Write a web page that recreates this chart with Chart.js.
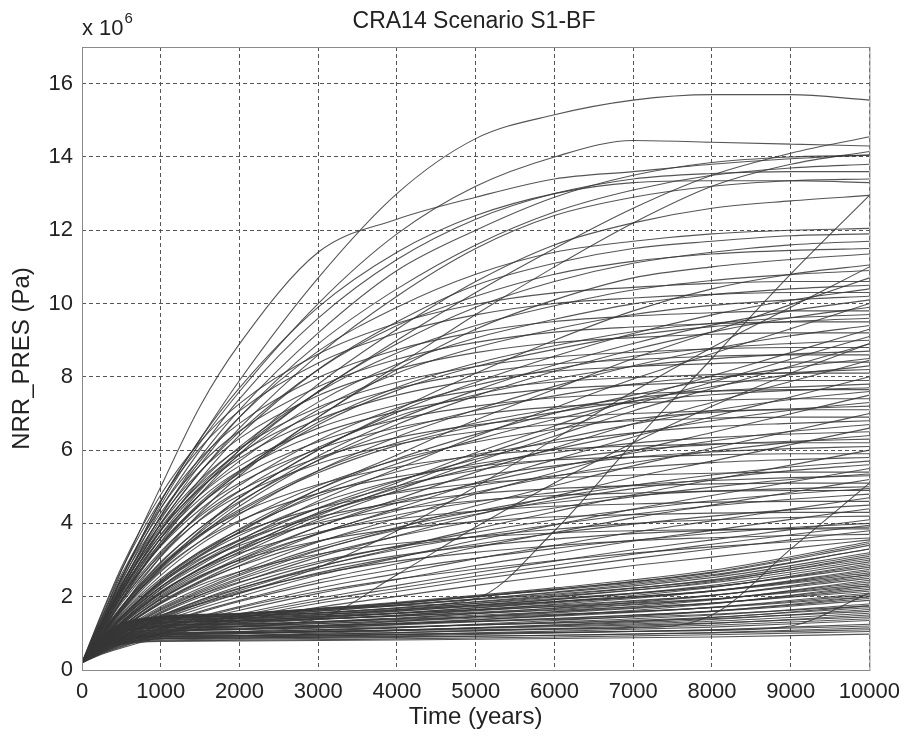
<!DOCTYPE html>
<html>
<head>
<meta charset="utf-8">
<script src="https://cdn.jsdelivr.net/npm/chart.js@4.4.1/dist/chart.umd.min.js"></script>
<style>
  html, body { margin: 0; padding: 0; background: #fff; }
  canvas { display: block; }
</style>
</head>
<body>
<canvas id="nrr" width="909" height="739"></canvas>
<script>
// Sample times (years) for the realisations
const TIME = [0, 250, 500, 1000, 1500, 2000, 3000, 4000, 5000, 6000, 7000, 8000, 9000, 10000];
const TIME_BAND = [0, 250, 500, 1000, 2000, 4000, 6000, 8000, 10000];

const X_TICKS = [0, 1000, 2000, 3000, 4000, 5000, 6000, 7000, 8000, 9000, 10000];
const Y_TICKS = [0, 2, 4, 6, 8, 10, 12, 14, 16];

// Pressure in units of 1e6 Pa, sampled on TIME
const upperRuns = [
  [0.2, 1.3, 2.5, 4.6, 6.3, 7.9, 10.7, 13.0, 14.5, 15.15, 15.55, 15.7, 15.7, 15.55],
  [0.2, 1.3, 2.5, 4.5, 6.2, 7.6, 10.0, 11.9, 13.2, 14.0, 14.45, 14.4, 14.35, 14.3],
  [0.2, 1.4, 2.7, 5.0, 7.2, 8.9, 11.4, 12.3, 12.9, 13.4, 13.6, 13.8, 13.95, 14.05],
  [0.2, 1.1, 2.1, 3.8, 5.0, 6.0, 7.6, 9.0, 10.3, 11.5, 12.6, 13.5, 14.1, 14.55],
  [0.2, 1.0, 1.9, 3.4, 4.5, 5.4, 6.9, 8.3, 9.7, 11.0, 12.2, 13.2, 13.8, 14.15],
  [0.2, 1.2, 2.3, 4.2, 5.8, 7.1, 9.2, 10.9, 12.0, 12.9, 13.5, 13.85, 14.0, 14.05],
  [0.2, 1.2, 2.3, 4.1, 5.6, 6.9, 8.9, 10.4, 11.6, 12.5, 13.1, 13.5, 13.7, 13.8],
  [0.2, 1.3, 2.4, 4.4, 6.0, 7.4, 9.6, 11.2, 12.3, 13.0, 13.4, 13.55, 13.6, 13.6],
  [0.2, 1.2, 2.2, 4.0, 5.4, 6.6, 8.6, 10.2, 11.5, 12.4, 12.9, 13.2, 13.35, 13.4],
  [0.2, 1.3, 2.5, 4.6, 6.3, 7.7, 9.9, 11.4, 12.4, 13.0, 13.3, 13.35, 13.35, 13.3],
  [0.2, 1.1, 2.0, 3.6, 4.9, 6.0, 7.8, 9.3, 10.6, 11.6, 12.2, 12.6, 12.8, 12.95],
  [0.2, 1.2, 2.3, 4.2, 5.7, 6.9, 8.7, 9.9, 10.8, 11.4, 11.7, 11.9, 12.0, 12.05],
  [0.2, 1.1, 2.1, 3.8, 5.2, 6.4, 8.2, 9.5, 10.5, 11.1, 11.5, 11.7, 11.85, 11.9],
  [0.2, 1.0, 1.9, 3.5, 4.8, 5.9, 7.6, 8.9, 9.9, 10.6, 11.1, 11.4, 11.6, 11.7],
  [0.2, 1.2, 2.2, 4.0, 5.4, 6.5, 8.2, 9.4, 10.2, 10.8, 11.15, 11.35, 11.45, 11.5],
  [0.2, 0.9, 1.7, 3.1, 4.3, 5.3, 6.9, 8.2, 9.3, 10.1, 10.7, 11.0, 11.2, 11.35],
  [0.2, 0.9, 1.6, 2.8, 3.8, 4.7, 6.0, 7.1, 8.1, 9.0, 9.8, 10.4, 10.8, 11.05]
];

// Runs that stay low and then climb late
const lateRuns = [
  [0.2, 0.6, 0.85, 1.2, 1.35, 1.45, 1.6, 1.75, 1.95, 3.8, 6.2, 8.5, 10.8, 12.95],
  [0.2, 0.55, 0.8, 0.95, 1.0, 1.02, 1.05, 1.08, 1.1, 1.12, 1.15, 1.5, 3.3, 5.1],
  [0.2, 0.7, 1.1, 1.5, 1.8, 2.1, 2.8, 3.8, 5.0, 6.3, 7.6, 8.8, 9.9, 11.0],
  [0.2, 0.55, 0.8, 1.0, 1.1, 1.2, 1.4, 2.6, 3.9, 5.1, 6.2, 7.2, 8.1, 8.9],
  [0.2, 0.5, 0.72, 0.85, 0.88, 0.9, 0.93, 0.96, 0.99, 1.02, 1.05, 1.08, 1.2, 2.1]
];

const fanRuns = [
  [0.2, 1.27, 2.23, 3.84, 5.12, 6.09, 7.58, 8.65, 9.4, 9.94, 10.37, 10.63, 10.79, 10.9],
  [0.2, 1.55, 2.8, 4.78, 6.23, 7.27, 8.62, 9.46, 9.98, 10.29, 10.44, 10.55, 10.6, 10.6],
  [0.2, 1.02, 1.73, 2.95, 3.87, 4.69, 6.01, 7.03, 7.85, 8.56, 9.18, 9.69, 10.09, 10.4],
  [0.2, 1.51, 2.73, 4.64, 6.06, 7.07, 8.38, 9.19, 9.69, 10.0, 10.15, 10.25, 10.3, 10.3],
  [0.2, 1.2, 2.1, 3.6, 4.8, 5.7, 7.1, 8.1, 8.8, 9.3, 9.7, 9.95, 10.1, 10.2],
  [0.2, 0.89, 1.38, 2.26, 2.94, 3.53, 4.61, 5.49, 6.37, 7.16, 7.94, 8.63, 9.31, 10.0],
  [0.2, 1.45, 2.6, 4.42, 5.77, 6.73, 7.98, 8.74, 9.22, 9.51, 9.66, 9.75, 9.8, 9.8],
  [0.2, 1.14, 1.99, 3.4, 4.52, 5.37, 6.69, 7.63, 8.28, 8.75, 9.13, 9.37, 9.51, 9.6],
  [0.2, 0.94, 1.58, 2.68, 3.51, 4.25, 5.44, 6.36, 7.1, 7.74, 8.3, 8.76, 9.12, 9.4],
  [0.2, 1.37, 2.45, 4.16, 5.42, 6.32, 7.49, 8.21, 8.66, 8.93, 9.07, 9.16, 9.2, 9.2],
  [0.2, 1.08, 1.87, 3.19, 4.25, 5.04, 6.27, 7.15, 7.77, 8.21, 8.56, 8.78, 8.91, 9.0],
  [0.2, 0.81, 1.24, 2.03, 2.64, 3.16, 4.12, 4.9, 5.68, 6.38, 7.07, 7.68, 8.29, 8.9],
  [0.2, 1.32, 2.35, 3.98, 5.19, 6.05, 7.17, 7.85, 8.28, 8.54, 8.67, 8.76, 8.8, 8.8],
  [0.2, 1.05, 1.82, 3.09, 4.11, 4.88, 6.07, 6.92, 7.51, 7.94, 8.28, 8.49, 8.62, 8.7],
  [0.2, 0.86, 1.45, 2.44, 3.19, 3.85, 4.93, 5.76, 6.43, 7.01, 7.5, 7.92, 8.25, 8.5],
  [0.2, 1.27, 2.25, 3.81, 4.96, 5.78, 6.84, 7.5, 7.91, 8.15, 8.28, 8.36, 8.4, 8.4],
  [0.2, 1.0, 1.72, 2.92, 3.88, 4.6, 5.72, 6.52, 7.08, 7.48, 7.8, 8.0, 8.12, 8.2],
  [0.2, 0.75, 1.14, 1.84, 2.38, 2.85, 3.71, 4.41, 5.11, 5.74, 6.36, 6.91, 7.45, 8.0],
  [0.2, 1.2, 2.13, 3.59, 4.67, 5.44, 6.44, 7.05, 7.44, 7.67, 7.78, 7.86, 7.9, 7.9],
  [0.2, 0.96, 1.64, 2.78, 3.7, 4.38, 5.44, 6.2, 6.74, 7.12, 7.42, 7.61, 7.72, 7.8],
  [0.2, 0.79, 1.31, 2.2, 2.86, 3.46, 4.42, 5.16, 5.75, 6.27, 6.71, 7.08, 7.38, 7.6],
  [0.2, 1.14, 2.0, 3.37, 4.38, 5.1, 6.03, 6.61, 6.97, 7.18, 7.29, 7.36, 7.4, 7.4],
  [0.2, 0.9, 1.53, 2.58, 3.42, 4.05, 5.03, 5.73, 6.22, 6.57, 6.85, 7.03, 7.13, 7.2],
  [0.2, 0.68, 1.02, 1.63, 2.1, 2.51, 3.26, 3.87, 4.48, 5.03, 5.57, 6.05, 6.52, 7.0],
  [0.2, 1.07, 1.88, 3.15, 4.09, 4.76, 5.63, 6.16, 6.5, 6.7, 6.8, 6.87, 6.9, 6.9],
  [0.2, 0.72, 1.18, 1.96, 2.54, 3.06, 3.91, 4.56, 5.08, 5.53, 5.92, 6.25, 6.51, 6.7],
  [0.2, 0.83, 1.4, 2.34, 3.1, 3.67, 4.55, 5.18, 5.62, 5.93, 6.19, 6.34, 6.44, 6.5],
  [0.2, 0.98, 1.7, 2.84, 3.68, 4.28, 5.06, 5.54, 5.84, 6.02, 6.11, 6.17, 6.2, 6.2],
  [0.2, 0.61, 0.9, 1.42, 1.82, 2.17, 2.81, 3.33, 3.85, 4.32, 4.78, 5.19, 5.59, 6.0],
  [0.2, 0.76, 1.26, 2.1, 2.78, 3.28, 4.06, 4.62, 5.02, 5.3, 5.52, 5.66, 5.74, 5.8],
  [0.2, 0.63, 1.01, 1.66, 2.14, 2.58, 3.28, 3.82, 4.25, 4.63, 4.95, 5.22, 5.44, 5.6],
  [0.2, 0.88, 1.5, 2.49, 3.22, 3.74, 4.41, 4.83, 5.09, 5.24, 5.32, 5.37, 5.4, 5.4],
  [0.2, 0.55, 0.8, 1.25, 1.6, 1.9, 2.45, 2.9, 3.35, 3.75, 4.15, 4.5, 4.85, 5.2],
  [0.2, 0.68, 1.11, 1.83, 2.41, 2.84, 3.51, 3.99, 4.33, 4.57, 4.76, 4.88, 4.95, 5.0],
  [0.2, 0.57, 0.89, 1.44, 1.86, 2.22, 2.82, 3.28, 3.65, 3.97, 4.25, 4.48, 4.66, 4.8],
  [0.2, 0.77, 1.3, 2.14, 2.75, 3.19, 3.76, 4.12, 4.34, 4.47, 4.53, 4.58, 4.6, 4.6],
  [0.2, 0.49, 0.7, 1.08, 1.38, 1.63, 2.09, 2.47, 2.85, 3.18, 3.52, 3.81, 4.11, 4.4],
  [0.2, 0.6, 0.96, 1.56, 2.04, 2.4, 2.96, 3.36, 3.64, 3.84, 4.0, 4.1, 4.16, 4.2],
  [0.2, 0.5, 0.77, 1.23, 1.57, 1.87, 2.37, 2.75, 3.05, 3.32, 3.54, 3.73, 3.89, 4.0],
  [0.2, 0.45, 0.63, 0.96, 1.21, 1.42, 1.82, 2.14, 2.47, 2.76, 3.04, 3.3, 3.55, 3.8],
  [0.2, 0.55, 0.87, 1.39, 1.81, 2.13, 2.62, 2.97, 3.21, 3.39, 3.53, 3.61, 3.67, 3.7],
  [0.2, 0.47, 0.71, 1.12, 1.42, 1.7, 2.14, 2.48, 2.75, 2.99, 3.19, 3.36, 3.5, 3.6],
  [0.2, 0.94, 1.46, 2.4, 3.14, 3.77, 4.93, 5.87, 6.82, 7.66, 8.5, 9.23, 9.97, 10.7],
  [0.2, 0.99, 1.69, 2.87, 3.76, 4.56, 5.84, 6.83, 7.63, 8.32, 8.91, 9.41, 9.8, 10.1],
  [0.2, 1.41, 2.53, 4.29, 5.59, 6.52, 7.73, 8.48, 8.94, 9.22, 9.36, 9.45, 9.5, 9.5],
  [0.2, 0.84, 1.29, 2.11, 2.75, 3.29, 4.3, 5.11, 5.93, 6.66, 7.39, 8.03, 8.66, 9.3],
  [0.2, 1.29, 2.3, 3.9, 5.07, 5.91, 7.0, 7.68, 8.1, 8.35, 8.47, 8.56, 8.6, 8.6],
  [0.2, 0.85, 1.42, 2.39, 3.12, 3.76, 4.82, 5.63, 6.28, 6.84, 7.33, 7.73, 8.06, 8.3],
  [0.2, 0.95, 1.63, 2.75, 3.65, 4.33, 5.38, 6.13, 6.65, 7.03, 7.33, 7.51, 7.63, 7.7],
  [0.2, 0.71, 1.08, 1.73, 2.24, 2.68, 3.49, 4.14, 4.8, 5.38, 5.97, 6.48, 6.99, 7.5],
  [0.2, 1.1, 1.93, 3.24, 4.2, 4.89, 5.79, 6.34, 6.69, 6.89, 7.0, 7.07, 7.1, 7.1],
  [0.2, 0.86, 1.45, 2.44, 3.24, 3.83, 4.75, 5.41, 5.88, 6.21, 6.47, 6.64, 6.73, 6.8],
  [0.2, 0.7, 1.13, 1.87, 2.43, 2.93, 3.73, 4.35, 4.85, 5.28, 5.66, 5.97, 6.21, 6.4],
  [0.2, 0.94, 1.63, 2.71, 3.51, 4.08, 4.82, 5.27, 5.56, 5.73, 5.81, 5.87, 5.9, 5.9],
  [0.2, 0.57, 0.84, 1.31, 1.68, 2.0, 2.59, 3.06, 3.54, 3.96, 4.39, 4.76, 5.13, 5.5],
  [0.2, 0.71, 1.17, 1.93, 2.55, 3.01, 3.72, 4.23, 4.59, 4.84, 5.05, 5.17, 5.25, 5.3],
  [0.2, 0.81, 1.38, 2.27, 2.93, 3.4, 4.01, 4.38, 4.62, 4.76, 4.83, 4.88, 4.9, 4.9],
  [0.2, 0.54, 0.85, 1.36, 1.75, 2.09, 2.65, 3.08, 3.43, 3.73, 3.98, 4.2, 4.37, 4.5],
  [0.2, 0.47, 0.67, 1.02, 1.29, 1.53, 1.96, 2.31, 2.66, 2.97, 3.28, 3.55, 3.83, 4.1],
  [0.2, 0.57, 0.9, 1.46, 1.9, 2.24, 2.75, 3.12, 3.38, 3.57, 3.72, 3.81, 3.86, 3.9],
  [0.2, 1.23, 2.16, 3.7, 4.94, 5.87, 7.31, 8.34, 9.06, 9.57, 9.99, 10.24, 10.4, 10.5],
  [0.2, 0.98, 1.66, 2.82, 3.69, 4.47, 5.73, 6.7, 7.48, 8.15, 8.74, 9.22, 9.61, 9.9],
  [0.2, 0.82, 1.27, 2.07, 2.69, 3.23, 4.21, 5.01, 5.81, 6.52, 7.23, 7.85, 8.48, 9.1],
  [0.2, 1.23, 2.18, 3.68, 4.78, 5.57, 6.6, 7.23, 7.63, 7.86, 7.98, 8.06, 8.1, 8.1],
  [0.2, 0.77, 1.27, 2.12, 2.76, 3.32, 4.25, 4.96, 5.53, 6.02, 6.45, 6.8, 7.09, 7.3],
  [0.2, 0.65, 0.97, 1.54, 1.99, 2.38, 3.08, 3.66, 4.23, 4.74, 5.26, 5.7, 6.15, 6.6],
  [0.2, 0.81, 1.36, 2.27, 3.01, 3.56, 4.41, 5.02, 5.45, 5.75, 6.0, 6.15, 6.24, 6.3],
  [0.2, 0.64, 1.03, 1.69, 2.18, 2.62, 3.34, 3.89, 4.33, 4.71, 5.04, 5.32, 5.54, 5.7],
  [0.2, 0.84, 1.43, 2.36, 3.04, 3.53, 4.17, 4.56, 4.81, 4.95, 5.03, 5.08, 5.1, 5.1],
  [0.2, 0.52, 0.74, 1.15, 1.46, 1.73, 2.23, 2.63, 3.04, 3.4, 3.76, 4.07, 4.39, 4.7],
  [0.2, 0.73, 1.23, 2.0, 2.58, 2.99, 3.52, 3.85, 4.05, 4.18, 4.24, 4.28, 4.3, 4.3],
  [0.2, 0.46, 0.65, 0.99, 1.25, 1.48, 1.89, 2.23, 2.56, 2.86, 3.16, 3.43, 3.69, 3.95],
  [0.2, 0.43, 0.6, 0.9, 1.14, 1.34, 1.71, 2.01, 2.31, 2.58, 2.85, 3.08, 3.32, 3.55],
  [0.2, 0.61, 0.97, 1.59, 2.05, 2.47, 3.14, 3.65, 4.06, 4.42, 4.73, 4.99, 5.2, 5.35],
  [0.2, 0.79, 1.32, 2.21, 2.91, 3.45, 4.27, 4.86, 5.27, 5.57, 5.81, 5.95, 6.04, 6.1],
  [0.2, 1.17, 2.06, 3.48, 4.52, 5.27, 6.23, 6.83, 7.2, 7.43, 7.54, 7.61, 7.65, 7.65],
  [0.2, 0.78, 1.19, 1.93, 2.51, 3.01, 3.91, 4.66, 5.4, 6.06, 6.72, 7.3, 7.87, 8.45],
  [0.2, 1.15, 2.01, 3.43, 4.57, 5.43, 6.76, 7.71, 8.37, 8.85, 9.23, 9.46, 9.61, 9.7],
  [0.2, 0.58, 0.91, 1.48, 1.91, 2.29, 2.91, 3.38, 3.76, 4.1, 4.38, 4.62, 4.81, 4.95],
  [0.2, 0.67, 1.11, 1.81, 2.32, 2.68, 3.16, 3.45, 3.63, 3.74, 3.8, 3.83, 3.85, 3.85]
];

// Low-pressure runs, sampled on TIME_BAND
const bandRuns = [
  [0.2, 0.52, 0.69, 0.78, 0.79, 0.82, 0.86, 0.9, 0.98],
  [0.2, 0.53, 0.71, 0.8, 0.81, 0.85, 0.9, 0.96, 1.05],
  [0.2, 0.54, 0.73, 0.82, 0.84, 0.89, 0.95, 1.02, 1.15],
  [0.2, 0.56, 0.75, 0.85, 0.87, 0.93, 1.01, 1.1, 1.25],
  [0.2, 0.57, 0.78, 0.88, 0.9, 0.97, 1.06, 1.17, 1.35],
  [0.2, 0.59, 0.8, 0.9, 0.93, 1.02, 1.13, 1.27, 1.5],
  [0.2, 0.6, 0.82, 0.93, 0.95, 1.02, 1.11, 1.22, 1.4],
  [0.2, 0.61, 0.84, 0.95, 0.99, 1.09, 1.22, 1.38, 1.65],
  [0.2, 0.62, 0.85, 0.97, 1.0, 1.09, 1.2, 1.33, 1.55],
  [0.2, 0.64, 0.88, 1.0, 1.04, 1.16, 1.31, 1.5, 1.8],
  [0.2, 0.65, 0.9, 1.02, 1.05, 1.16, 1.29, 1.44, 1.7],
  [0.2, 0.67, 0.92, 1.05, 1.1, 1.23, 1.4, 1.61, 1.95],
  [0.2, 0.68, 0.94, 1.07, 1.12, 1.28, 1.47, 1.71, 2.1],
  [0.2, 0.7, 0.97, 1.1, 1.14, 1.26, 1.41, 1.6, 1.9],
  [0.2, 0.71, 0.98, 1.12, 1.18, 1.35, 1.56, 1.82, 2.25],
  [0.2, 0.72, 1.01, 1.15, 1.2, 1.33, 1.5, 1.71, 2.05],
  [0.2, 0.73, 1.02, 1.17, 1.23, 1.42, 1.65, 1.93, 2.4],
  [0.2, 0.75, 1.05, 1.2, 1.25, 1.4, 1.59, 1.82, 2.2],
  [0.2, 0.76, 1.07, 1.22, 1.29, 1.49, 1.74, 2.04, 2.55],
  [0.2, 0.78, 1.09, 1.25, 1.31, 1.47, 1.68, 1.93, 2.35],
  [0.2, 0.79, 1.11, 1.27, 1.34, 1.56, 1.83, 2.16, 2.7],
  [0.2, 0.81, 1.14, 1.3, 1.36, 1.54, 1.77, 2.04, 2.5],
  [0.2, 0.82, 1.15, 1.32, 1.4, 1.63, 1.92, 2.27, 2.85],
  [0.2, 0.83, 1.18, 1.35, 1.42, 1.61, 1.86, 2.16, 2.65],
  [0.2, 0.84, 1.19, 1.37, 1.45, 1.7, 2.01, 2.38, 3.0],
  [0.2, 0.86, 1.22, 1.4, 1.47, 1.68, 1.95, 2.27, 2.8],
  [0.2, 0.87, 1.24, 1.42, 1.51, 1.78, 2.11, 2.52, 3.2],
  [0.2, 0.89, 1.26, 1.45, 1.53, 1.77, 2.07, 2.44, 3.05],
  [0.2, 0.88, 1.25, 1.43, 1.53, 1.82, 2.2, 2.65, 3.4],
  [0.2, 0.85, 1.2, 1.38, 1.48, 1.76, 2.13, 2.57, 3.3],
  [0.2, 0.56, 0.76, 0.86, 0.87, 0.91, 0.95, 1.01, 1.1],
  [0.2, 0.6, 0.81, 0.92, 0.93, 0.98, 1.03, 1.09, 1.2],
  [0.2, 0.64, 0.88, 1.0, 1.02, 1.09, 1.18, 1.28, 1.45],
  [0.2, 0.68, 0.95, 1.08, 1.11, 1.18, 1.28, 1.4, 1.6],
  [0.2, 0.72, 1.01, 1.15, 1.18, 1.27, 1.38, 1.52, 1.75],
  [0.2, 0.76, 1.07, 1.22, 1.26, 1.38, 1.52, 1.7, 2.0],
  [0.2, 0.81, 1.14, 1.3, 1.34, 1.47, 1.63, 1.83, 2.15],
  [0.2, 0.84, 1.19, 1.36, 1.41, 1.55, 1.73, 1.94, 2.3],
  [0.2, 0.87, 1.23, 1.41, 1.47, 1.65, 1.87, 2.15, 2.6],
  [0.2, 0.88, 1.25, 1.44, 1.54, 1.85, 2.24, 2.72, 3.5],
  [0.2, 0.82, 1.16, 1.33, 1.42, 1.69, 2.04, 2.46, 3.15],
  [0.2, 0.78, 1.1, 1.26, 1.34, 1.6, 1.92, 2.31, 2.95],
  [0.2, 0.74, 1.03, 1.18, 1.26, 1.49, 1.79, 2.15, 2.75],
  [0.2, 0.7, 0.97, 1.1, 1.18, 1.4, 1.69, 2.03, 2.6],
  [0.2, 0.66, 0.91, 1.04, 1.11, 1.32, 1.59, 1.91, 2.45],
  [0.2, 0.63, 0.86, 0.98, 1.05, 1.24, 1.49, 1.8, 2.3],
  [0.2, 0.61, 0.83, 0.94, 0.99, 1.15, 1.35, 1.6, 2.0],
  [0.2, 0.59, 0.8, 0.9, 0.94, 1.07, 1.23, 1.43, 1.75],
  [0.2, 0.89, 1.27, 1.46, 1.55, 1.83, 2.18, 2.6, 3.3],
  [0.2, 0.86, 1.22, 1.4, 1.5, 1.81, 2.2, 2.67, 3.45],
  [0.2, 0.79, 1.12, 1.28, 1.37, 1.64, 1.99, 2.41, 3.1],
  [0.2, 0.75, 1.05, 1.2, 1.29, 1.54, 1.86, 2.25, 2.9]
];

const FONT = "'Liberation Sans', Arial, Helvetica, sans-serif";
const LINE_COLOR = 'rgba(55, 55, 55, 0.85)';

function toPoints(times, values) {
  return values.map((v, i) => ({ x: times[i], y: v }));
}

function runDataset(times, values) {
  return {
    data: toPoints(times, values),
    borderColor: LINE_COLOR,
    borderWidth: 1.1,
    pointRadius: 0,
    fill: false,
    cubicInterpolationMode: 'monotone'
  };
}

const datasets = [
  ...bandRuns.map((r) => runDataset(TIME_BAND, r)),
  ...fanRuns.map((r) => runDataset(TIME, r)),
  ...lateRuns.map((r) => runDataset(TIME, r)),
  ...upperRuns.map((r) => runDataset(TIME, r))
];

// Axes frame, plot title and the exponent note
const decorations = {
  id: 'decorations',
  afterDraw(chart) {
    const { ctx, chartArea } = chart;
    ctx.save();
    ctx.strokeStyle = '#8a8a8a';
    ctx.lineWidth = 1;
    ctx.strokeRect(chartArea.left + 0.5, chartArea.top + 0.5,
      chartArea.right - chartArea.left, chartArea.bottom - chartArea.top);

    ctx.fillStyle = '#222';
    ctx.textBaseline = 'alphabetic';
    ctx.textAlign = 'center';
    ctx.font = '23px ' + FONT;
    ctx.fillText('CRA14 Scenario S1-BF', 474, 28);

    ctx.textAlign = 'left';
    ctx.font = '22px ' + FONT;
    ctx.fillText('x 10', 82, 35);
    const w = ctx.measureText('x 10').width;
    ctx.font = '15px ' + FONT;
    ctx.fillText('6', 82 + w + 1, 23);
    ctx.restore();
  }
};

new Chart(document.getElementById('nrr'), {
  type: 'line',
  data: { datasets },
  options: {
    responsive: false,
    animation: false,
    events: [],
    layout: { padding: { top: 47, right: 38, left: 0, bottom: 0 } },
    plugins: { legend: { display: false }, tooltip: { enabled: false }, title: { display: false } },
    scales: {
      x: {
        type: 'linear',
        min: 0,
        max: 10000,
        afterFit(scale) { scale.height = 69; },
        afterBuildTicks(scale) { scale.ticks = X_TICKS.map((v) => ({ value: v })); },
        grid: { color: '#555', drawTicks: false, lineWidth: 1 },
        border: { display: false, dash: [4, 3] },
        ticks: {
          padding: 9, color: '#222', font: { family: FONT, size: 22 }, maxRotation: 0,
          callback: (v) => String(v)
        },
        title: { display: true, text: 'Time (years)', color: '#222', font: { family: FONT, size: 24 }, padding: { top: 0, bottom: 7 } }
      },
      y: {
        type: 'linear',
        min: 0,
        max: 17,
        afterFit(scale) { scale.width = 82; },
        afterBuildTicks(scale) { scale.ticks = Y_TICKS.map((v) => ({ value: v })); },
        grid: { color: '#555', drawTicks: false, lineWidth: 1 },
        border: { display: false, dash: [4, 3] },
        ticks: { padding: 9, color: '#222', font: { family: FONT, size: 22 } },
        title: { display: true, text: 'NRR_PRES (Pa)', color: '#222', font: { family: FONT, size: 24 }, padding: { top: 8, bottom: 0 } }
      }
    }
  },
  plugins: [decorations]
});
</script>
</body>
</html>
